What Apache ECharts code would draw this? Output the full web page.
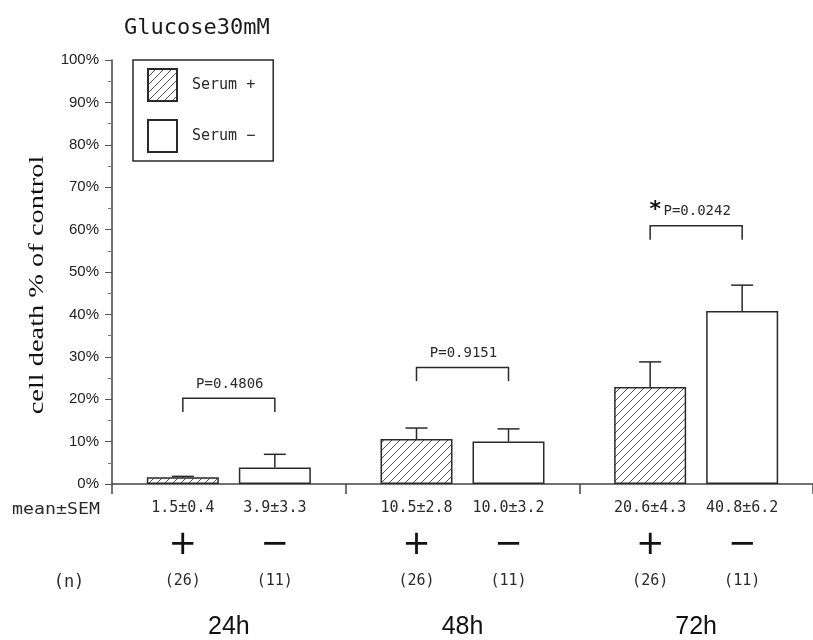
<!DOCTYPE html>
<html>
<head>
<meta charset="utf-8">
<script src="https://cdn.jsdelivr.net/npm/echarts@6/dist/echarts.min.js"></script>
<style>
html,body{margin:0;padding:0;background:#fff;}
#chart{width:813px;height:640px;}
</style>
</head>
<body>
<div id="chart"></div>
<script>
// ---- data ----
const categories = ['24h', '48h', '72h'];
const serumPlus = [1.6, 10.6, 22.9];
const serumPlusErr = [0.2, 2.6, 5.9];
const serumMinus = [3.9, 10.0, 40.8];
const serumMinusErr = [3.1, 3.0, 6.1];
const meanTextPlus = ['1.5±0.4', '10.5±2.8', '20.6±4.3'];
const meanTextMinus = ['3.9±3.3', '10.0±3.2', '40.8±6.2'];
const nPlus = [26, 26, 26];
const nMinus = [11, 11, 11];
const bracketTop = [20.2, 27.5, 60.9];
const bracketLeg = [17.0, 24.3, 57.6];
const pValues = ['P=0.4806', 'P=0.9151', 'P=0.0242'];
const significant = [false, false, true];
const yMin = 0, yMax = 100, yStep = 10;

// ---- styles ----
const INK = '#2a2a2a';
const BAR_W = 72;
const BAR_GAP = 20;
const OFF = (BAR_W + BAR_GAP) / 2;
const MONO = '"DejaVu Sans Mono", "Liberation Mono", monospace';

const hatch = document.createElement('canvas');
hatch.width = 8; hatch.height = 8;
(function () {
  const c = hatch.getContext('2d');
  c.fillStyle = '#fff';
  c.fillRect(0, 0, 8, 8);
  c.strokeStyle = '#555';
  c.lineWidth = 1;
  c.beginPath();
  c.moveTo(-1, 9); c.lineTo(9, -1);
  c.moveTo(-1, 1); c.lineTo(1, -1);
  c.moveTo(7, 9); c.lineTo(9, 7);
  c.stroke();
})();

function barLabel(means, ns, sign) {
  return {
    show: true,
    position: 'bottom',
    distance: 6,
    formatter: function (p) {
      return '{m|' + means[p.dataIndex] + '}\n{s|' + sign + '}\n{n|(' + ns[p.dataIndex] + ')}';
    },
    rich: {
      m: { fontFamily: MONO, fontSize: 15, color: INK, lineHeight: 36.5 },
      s: { fontFamily: '"DejaVu Sans", sans-serif', fontSize: 34, color: '#111', lineHeight: 36.5 },
      n: { fontFamily: MONO, fontSize: 15, color: INK, lineHeight: 36.5 }
    }
  };
}

function errorSeries(name, means, errs, sign) {
  return {
    type: 'custom',
    name: name,
    z: 5,
    data: means.map((m, i) => [i, m, m + errs[i]]),
    renderItem: function (params, api) {
      const p0 = api.coord([api.value(0), api.value(1)]);
      const p1 = api.coord([api.value(0), api.value(2)]);
      const x = p0[0] + sign * OFF;
      return {
        type: 'group',
        children: [
          { type: 'line', shape: { x1: x, y1: p0[1], x2: x, y2: p1[1] }, style: { stroke: INK, lineWidth: 1.5 } },
          { type: 'line', shape: { x1: x - 11, y1: p1[1], x2: x + 11, y2: p1[1] }, style: { stroke: INK, lineWidth: 1.5 } }
        ]
      };
    }
  };
}

const chart = echarts.init(document.getElementById('chart'), null, { renderer: 'canvas' });

const option = {
  backgroundColor: '#fff',
  animation: false,
  title: {
    text: 'Glucose30mM',
    left: 119,
    top: 12,
    textStyle: { fontFamily: MONO, fontSize: 22, fontWeight: 'normal', color: '#1a1a1a' }
  },
  legend: {
    orient: 'vertical',
    left: 133,
    top: 60,
    data: ['Serum +', 'Serum −'],
    itemWidth: 29,
    itemHeight: 32,
    itemGap: 17,
    padding: [8, 18, 8, 14],
    borderColor: INK,
    borderWidth: 1.5,
    icon: 'rect',
    textStyle: { fontFamily: MONO, fontSize: 15, color: INK, padding: [0, 0, 0, 10] }
  },
  graphic: [
    {
      type: 'text',
      x: 38, y: 285,
      rotation: Math.PI / 2,
      scaleX: 1.42,
      style: {
        text: 'cell death % of control',
        fontFamily: '"Liberation Serif", "DejaVu Serif", serif',
        fontSize: 20,
        fill: '#111',
        align: 'center',
        verticalAlign: 'middle'
      }
    },
    {
      type: 'text', x: 56, y: 510, scaleX: 1.14,
      style: { text: 'mean±SEM', fontFamily: MONO, fontSize: 16, fill: INK, align: 'center', verticalAlign: 'middle' }
    },
    {
      type: 'text', x: 69, y: 583,
      style: { text: '(n)', fontFamily: MONO, fontSize: 17, fill: INK, align: 'center', verticalAlign: 'middle' }
    }
  ],
  grid: { left: 112, top: 60, width: 706, height: 425, containLabel: false },
  xAxis: {
    type: 'category',
    data: categories,
    boundaryGap: true,
    axisLine: { lineStyle: { color: '#444', width: 1.5 } },
    axisTick: { show: true, length: 10, alignWithLabel: false, lineStyle: { color: '#444', width: 1.5 } },
    axisLabel: {
      margin: 131,
      fontFamily: '"Liberation Sans Narrow", "Liberation Sans", Arial, sans-serif',
      fontSize: 25,
      color: '#111'
    }
  },
  yAxis: {
    type: 'value',
    min: yMin,
    max: yMax,
    interval: yStep,
    axisLine: { show: true, lineStyle: { color: '#444', width: 1.5 } },
    axisTick: { show: true, length: 7, lineStyle: { color: '#555', width: 1 } },
    minorTick: { show: true, splitNumber: 2, length: 4, lineStyle: { color: '#777', width: 1 } },
    splitLine: { show: false },
    axisLabel: {
      margin: 13,
      formatter: '{value}%',
      fontFamily: '"Liberation Sans Narrow", "Liberation Sans", Arial, sans-serif',
      fontSize: 15,
      color: '#222'
    }
  },
  series: [
    {
      name: 'Serum +',
      type: 'bar',
      data: serumPlus,
      barWidth: BAR_W,
      barGap: (BAR_GAP / BAR_W * 100) + '%',
      itemStyle: { color: { image: hatch, repeat: 'repeat' }, borderColor: INK, borderWidth: 1.5 },
      label: barLabel(meanTextPlus, nPlus, '+')
    },
    {
      name: 'Serum −',
      type: 'bar',
      data: serumMinus,
      barWidth: BAR_W,
      itemStyle: { color: '#fff', borderColor: INK, borderWidth: 1.5 },
      label: barLabel(meanTextMinus, nMinus, '−')
    },
    errorSeries('err+', serumPlus, serumPlusErr, -1),
    errorSeries('err-', serumMinus, serumMinusErr, 1),
    {
      type: 'custom',
      name: 'brackets',
      z: 5,
      data: bracketTop.map((t, i) => [i, t, bracketLeg[i]]),
      renderItem: function (params, api) {
        const i = params.dataIndex;
        const pt = api.coord([api.value(0), api.value(1)]);
        const pl = api.coord([api.value(0), api.value(2)]);
        const xl = pt[0] - OFF, xr = pt[0] + OFF;
        const children = [
          {
            type: 'polyline',
            shape: { points: [[xl, pl[1]], [xl, pt[1]], [xr, pt[1]], [xr, pl[1]]] },
            style: { stroke: INK, lineWidth: 1.5, fill: 'none' }
          },
          {
            type: 'text',
            style: {
              text: pValues[i], x: pt[0] + 1, y: pt[1] - 14,
              fontFamily: MONO, fontSize: 14, fill: INK,
              align: 'center', verticalAlign: 'middle'
            }
          }
        ];
        if (significant[i]) {
          children.push({
            type: 'text',
            style: {
              text: '*', x: pt[0] - 41, y: pt[1] - 16,
              fontFamily: '"DejaVu Sans", sans-serif', fontSize: 22, fontWeight: 'bold', fill: '#111',
              align: 'center', verticalAlign: 'middle'
            }
          });
        }
        return { type: 'group', children: children };
      }
    }
  ]
};

chart.setOption(option);
</script>
</body>
</html>
